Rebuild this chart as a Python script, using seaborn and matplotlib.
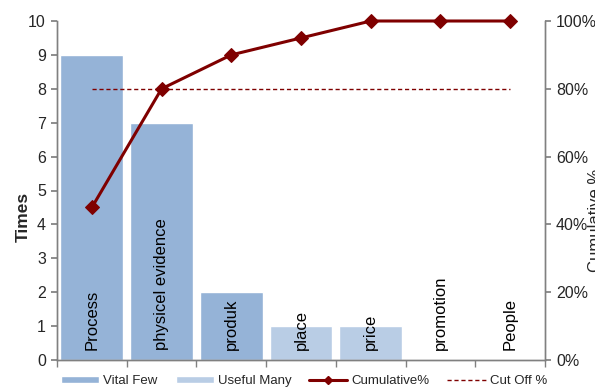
import numpy as np
import pandas as pd
import matplotlib
matplotlib.use("Agg")
import matplotlib.pyplot as plt
from matplotlib.ticker import PercentFormatter, FixedLocator, NullFormatter
from matplotlib.patches import Patch
from matplotlib.lines import Line2D
import seaborn as sns

categories = ["Process", "physicel evidence", "produk", "place", "price", "promotion", "People"]
times = [9, 7, 2, 1, 1, 0, 0]
groups = ["Vital Few", "Vital Few", "Vital Few", "Useful Many", "Useful Many", "Useful Many", "Useful Many"]
cumulative = [0.45, 0.80, 0.90, 0.95, 1.00, 1.00, 1.00]
cutoff = [0.80] * 7

sns.set_theme(style="white")
plt.rcParams["font.family"] = ["Liberation Sans", "DejaVu Sans"]

df = pd.DataFrame({"cat": categories, "times": times, "group": groups,
                   "pos": np.arange(len(categories))})

fig = plt.figure(figsize=(5.95, 3.87), dpi=100)
ax = fig.add_axes([57/595, 1-360/387, (545-57)/595, (360-21)/387])

palette = {"Vital Few": "#95B3D7", "Useful Many": "#B9CDE5"}
sns.barplot(data=df, x="cat", y="times", hue="group", palette=palette,
            dodge=False, width=0.9, ax=ax, legend=False, saturation=1)

ax.set_ylim(0, 10)
ax.set_xlim(-0.5, len(categories) - 0.5)
ax.set_yticks(range(0, 11))
ax.set_ylabel("Times", fontsize=12.5, fontweight="bold")
ax.yaxis.set_label_coords((31-57)/488, (360-217)/339)
ax.set_xlabel("")
ax.set_xticks([])
ax.xaxis.set_minor_locator(FixedLocator(np.arange(-0.5, len(categories), 1)))
ax.xaxis.set_minor_formatter(NullFormatter())
ax.tick_params(axis="x", which="minor", direction="out", length=5, color="#808080", bottom=True)
ax.tick_params(axis="y", direction="out", length=4, color="#808080", left=True, labelsize=11.5, pad=4)

for i, c in enumerate(categories):
    ax.text(i, 0.3, c, rotation=90, ha="center", va="bottom", fontsize=12, color="black")

ax2 = ax.twinx()
sns.lineplot(x=df["pos"], y=cumulative, ax=ax2, color="#7F0000", lw=2.2,
             marker="D", markersize=7, markeredgecolor="#7F0000", clip_on=False)
sns.lineplot(x=df["pos"], y=cutoff, ax=ax2, color="#7F0000", lw=1, linestyle=(0, (3, 2)))
ax2.set_ylim(0, 1)
ax2.yaxis.set_major_formatter(PercentFormatter(1.0, decimals=0))
ax2.set_yticks(np.arange(0, 1.01, 0.2))
ax2.tick_params(axis="y", direction="out", length=4, color="#808080", right=True, labelsize=11.5, pad=4)
ax2.set_ylabel("Cumulative %", fontsize=12)
ax2.yaxis.set_label_coords((588-57)/488, (360-220)/339)
ax2.set_xlim(-0.5, len(categories) - 0.5)

for a in (ax, ax2):
    a.spines["top"].set_visible(False)
    for s in ("left", "right", "bottom"):
        a.spines[s].set_color("#808080")
        a.spines[s].set_linewidth(1)

handles = [Patch(facecolor="#95B3D7", label="Vital Few"),
           Patch(facecolor="#B9CDE5", label="Useful Many"),
           Line2D([], [], color="#7F0000", lw=2.2, marker="D", markersize=4, label="Cumulative%"),
           Line2D([], [], color="#7F0000", lw=1, linestyle=(0, (3, 2)), label="Cut Off %")]
fig.legend(handles=handles, loc="center", bbox_to_anchor=(304/595, 1-381/387), ncol=4,
           frameon=False, fontsize=9.5, handlelength=2.9, columnspacing=1.35,
           handleheight=0.4, handletextpad=0.3, borderaxespad=0, borderpad=0)

fig.savefig("out.png", dpi=100)
